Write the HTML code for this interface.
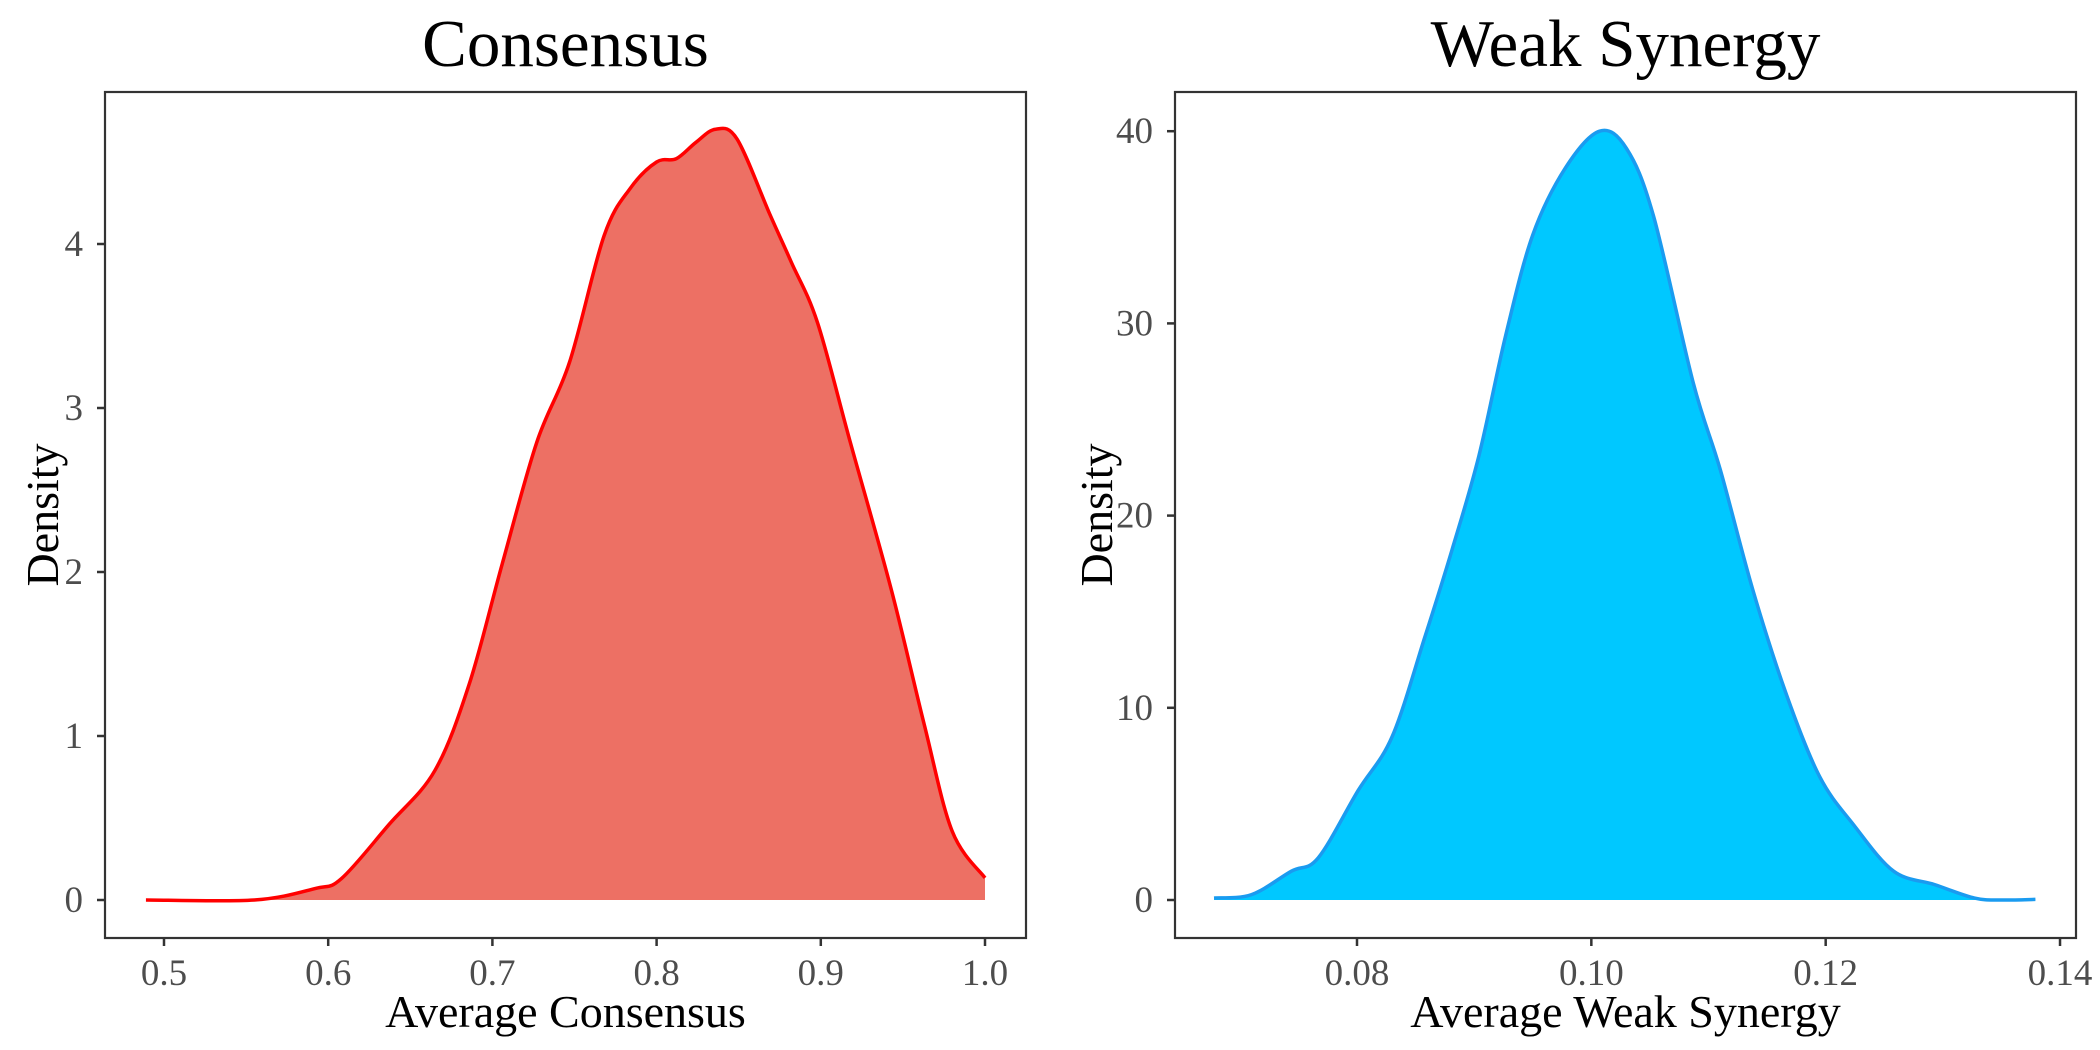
<!DOCTYPE html>
<html><head><meta charset="utf-8">
<style>
html,body{margin:0;padding:0;background:#fff;}
svg{display:block;font-family:"Liberation Serif",serif;}
</style></head>
<body>
<svg id="c" width="2100" height="1050" viewBox="0 0 2100 1050"></svg>
<script>
// Consensus panel data
const consX = [0.489,0.555,0.592,0.608,0.637,0.665,0.686,0.706,0.727,0.747,0.768,0.784,0.800,0.812,0.824,0.836,0.849,0.869,0.882,0.898,0.918,0.943,0.963,0.980,1.0];
const consY = [0.0,0.0,0.07,0.13,0.46,0.79,1.32,2.05,2.79,3.28,4.05,4.34,4.50,4.52,4.62,4.70,4.64,4.18,3.89,3.52,2.79,1.89,1.07,0.42,0.135];
const consXTicks = [0.5,0.6,0.7,0.8,0.9,1.0];
const consXTickLabels = ["0.5","0.6","0.7","0.8","0.9","1.0"];
const consYTicks = [0,1,2,3,4];
const consYTickLabels = ["0","1","2","3","4"];
// Weak synergy panel data
const wsX = [0.0678,0.0710,0.0744,0.0767,0.0801,0.0830,0.0858,0.0881,0.0904,0.0927,0.0950,0.0978,0.1007,0.1030,0.1053,0.1087,0.1110,0.1138,0.1167,0.1195,0.1224,0.1258,0.1293,0.1327,0.1350,0.1379];
const wsY = [0.1,0.28,1.5,2.2,5.7,8.5,13.7,18.2,23.1,29.4,34.6,38.1,40.0,39.1,35.6,26.9,22.4,16.1,10.6,6.4,3.9,1.5,0.8,0.1,0.0,0.03];
const wsXTicks = [0.08,0.10,0.12,0.14];
const wsXTickLabels = ["0.08","0.10","0.12","0.14"];
const wsYTicks = [0,10,20,30,40];
const wsYTickLabels = ["0","10","20","30","40"];

const NS="http://www.w3.org/2000/svg";
const svg=document.getElementById('c');
function mk(tag,attrs,parent){const e=document.createElementNS(NS,tag);for(const k in attrs)e.setAttribute(k,attrs[k]);(parent||svg).appendChild(e);return e;}
function smooth(pts){
  let d="M"+pts[0][0]+","+pts[0][1];
  for(let i=0;i<pts.length-1;i++){
    const p0=pts[Math.max(0,i-1)],p1=pts[i],p2=pts[i+1],p3=pts[Math.min(pts.length-1,i+2)];
    const c1x=p1[0]+(p2[0]-p0[0])/6,c1y=p1[1]+(p2[1]-p0[1])/6;
    const c2x=p2[0]-(p3[0]-p1[0])/6,c2y=p2[1]-(p3[1]-p1[1])/6;
    d+=" C"+c1x+","+c1y+" "+c2x+","+c2y+" "+p2[0]+","+p2[1];
  }
  return d;
}
function panel(o){
  const g=mk('g',{});
  
  
  const sx=v=>o.x0px+(v-o.x0v)*o.kx;
  const sy=v=>o.y0px-v*o.ky;
  const pts=o.xs.map((v,i)=>[sx(v),sy(o.ys[i])]);
  const line=smooth(pts);
  const area=mk('path',{d:line+" L"+pts[pts.length-1][0]+","+sy(0)+" L"+pts[0][0]+","+sy(0)+" Z",fill:o.fill,stroke:'none'},g);
  
  
  const ln=mk('path',{d:line,fill:'none',stroke:o.stroke,'stroke-width':3.5,'stroke-linejoin':'round'},g);
  
  
  const fr=mk('rect',{x:o.L,y:92,width:o.R-o.L,height:846,fill:'none',stroke:'#333','stroke-width':2.2},g);
  
  
  o.xt.forEach((v,i)=>{
    const x=sx(v);
    mk('line',{x1:x,x2:x,y1:938,y2:946,stroke:'#333','stroke-width':2.5},g);
    const t=mk('text',{x:x,y:985,'text-anchor':'middle','font-size':37,fill:'#4d4d4d'},g);
    t.textContent=o.xl[i];
    
    
  });
  o.yt.forEach((v,i)=>{
    const y=sy(v);
    mk('line',{x1:o.L-8,x2:o.L,y1:y,y2:y,stroke:'#333','stroke-width':2.5},g);
    const t=mk('text',{x:o.L-22,y:y+12,'text-anchor':'end','font-size':37,fill:'#4d4d4d'},g);
    t.textContent=o.yl[i];
    
    
  });
  const cx=(o.L+o.R)/2;
  const ti=mk('text',{x:cx,y:66,'text-anchor':'middle','font-size':67,fill:'#000'},g);
  ti.textContent=o.title;
  
  
  const xa=mk('text',{x:cx,y:1027,'text-anchor':'middle','font-size':46,fill:'#000'},g);
  xa.textContent=o.xlabel;
  
  
  const ya=mk('text',{x:0,y:0,'text-anchor':'middle','font-size':46,fill:'#000',transform:'translate('+(o.L-o.yoff)+',515) rotate(-90)'},g);
  ya.textContent='Density';
  
  
}
panel({name:'consensus-panel',L:105,R:1026,x0v:0.5,x0px:164,kx:1642,y0px:900,ky:164,yoff:47,
  xs:consX,ys:consY,xt:consXTicks,xl:consXTickLabels,yt:consYTicks,yl:consYTickLabels,
  fill:'#ED7064',stroke:'#FF0000',title:'Consensus',xlabel:'Average Consensus'});
panel({name:'weak-synergy-panel',L:1175,R:2076,x0v:0.08,x0px:1357,kx:11717,y0px:900,ky:19.22,yoff:63,
  xs:wsX,ys:wsY,xt:wsXTicks,xl:wsXTickLabels,yt:wsYTicks,yl:wsYTickLabels,
  fill:'#00C8FF',stroke:'#1A9BF0',title:'Weak Synergy',xlabel:'Average Weak Synergy'});
</script>
</body></html>
